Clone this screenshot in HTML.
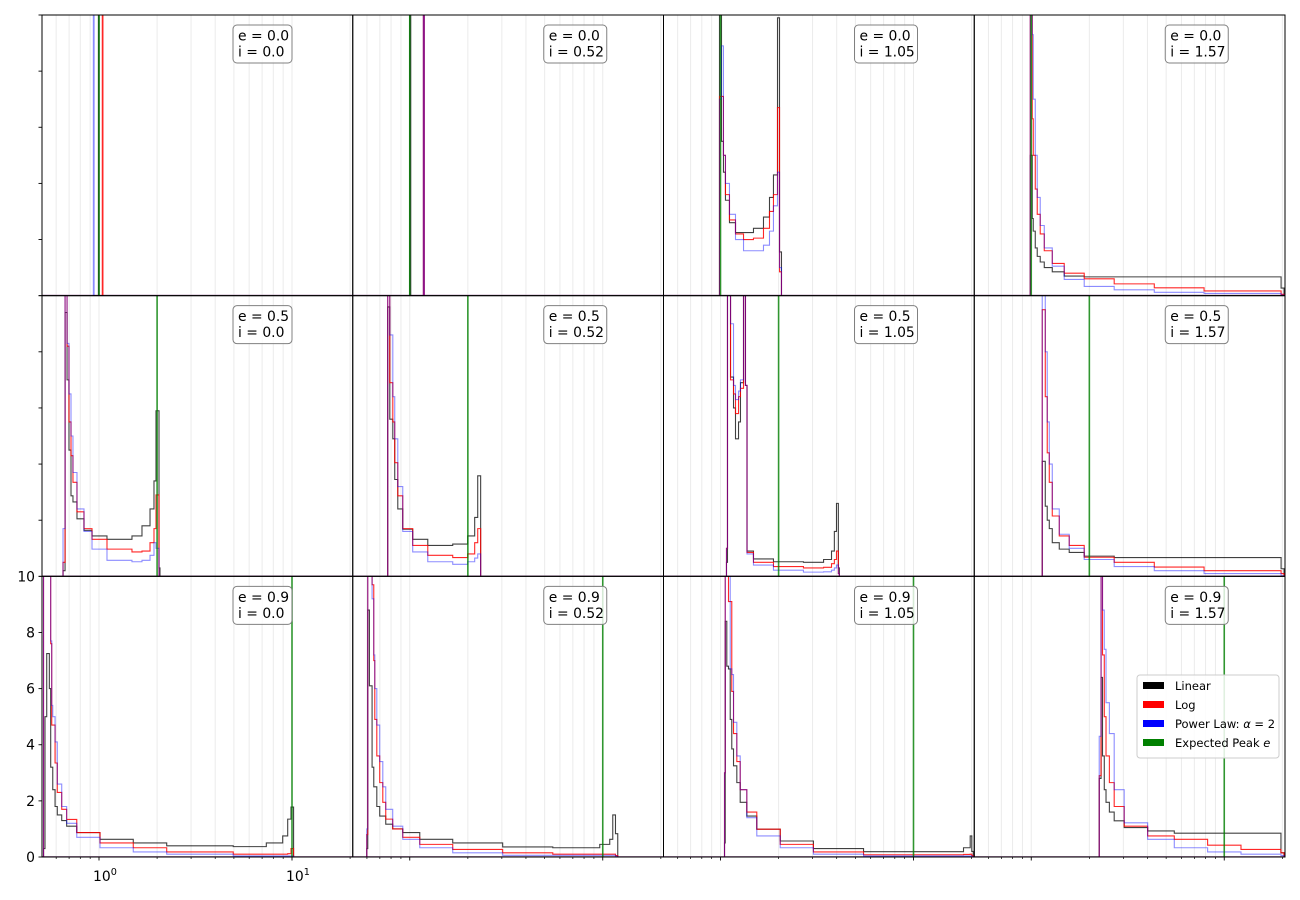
<!DOCTYPE html>
<html><head><meta charset="utf-8"><title>Histograms grid</title>
<style>
html,body{margin:0;padding:0;background:#fff;}
svg{display:block;font-family:"DejaVu Sans","Liberation Sans",sans-serif;}
</style></head>
<body>
<svg id="chart" width="1300" height="900" viewBox="0 0 1300 900" xmlns="http://www.w3.org/2000/svg">
<rect x="0" y="0" width="1300" height="900" fill="#fff"/>
<g id="grid"></g>
<g id="series"></g>
<g id="frames"></g>
<g id="axes"></g>
<g id="legend">
  <rect x="1137" y="675" width="142" height="83" rx="3" fill="#fff" fill-opacity="0.85" stroke="#cccccc"/>
  <g><rect x="1143" y="682" width="21" height="7" fill="#000"/><text x="1175" y="690" font-size="11.5">Linear</text></g>
  <g><rect x="1143" y="701" width="21" height="7" fill="#ff0000"/><text x="1175" y="709" font-size="11.5">Log</text></g>
  <g><rect x="1143" y="720" width="21" height="7" fill="#0000ff"/><text x="1175" y="728" font-size="11.5">Power Law: <tspan font-style="italic">α</tspan> = 2</text></g>
  <g><rect x="1143" y="739" width="21" height="7" fill="#008000"/><text x="1175" y="747" font-size="11.5">Expected Peak <tspan font-style="italic">e</tspan></text></g>
</g>
</svg>
<script>
// ---- data ----
const eccentricities = [0.0, 0.5, 0.9];
const inclinations = [0.0, 0.52, 1.05, 1.57];
const expectedPeak = [1, 2, 10];
const yTicks = [0, 2, 4, 6, 8, 10];

// row 1 (e = 0.0)
const edges_r1c1 = [0.935, 0.943, 0.993, 1.001, 1.040, 1.048];
const lin_r1c1 = [0, 0, 40, 0, 0];
const log_r1c1 = [0, 0, 0, 0, 40];
const pw_r1c1 = [40, 0, 0, 0, 0];

const edges_r1c2 = [1.000, 1.012, 1.176, 1.190];
const lin_r1c2 = [40, 0, 0];
const log_r1c2 = [0, 0, 40];
const pw_r1c2 = [0, 0, 40];

const edges_r1c3 = [0.988, 1.012, 1.036, 1.061, 1.113, 1.196, 1.316, 1.482, 1.670, 1.794, 1.881, 1.974, 2.022, 2.07];
const lin_r1c3 = [12, 5.5, 4.4, 3.4, 2.6, 2.25, 2.25, 2.4, 2.8, 3.5, 4.3, 9.9, 1.56];
const log_r1c3 = [7.1, 7.1, 5.0, 3.6, 2.7, 2.2, 2.0, 2.05, 2.4, 3.0, 3.6, 6.7, 0.85];
const pw_r1c3 = [7.0, 8.9, 5.0, 4.0, 2.9, 2.0, 1.6, 1.6, 1.8, 2.3, 3.2, 4.4, 1.0];

const edges_r1c4 = [0.988, 1.012, 1.024, 1.049, 1.074, 1.113, 1.168, 1.285, 1.482, 1.881, 2.69, 4.34, 7.86, 19.7, 20.4];
const lin_r1c4 = [5.0, 2.75, 2.3, 1.7, 1.4, 1.2, 1.0, 0.85, 0.7, 0.67, 0.67, 0.67, 0.67, 0.27];
const log_r1c4 = [12, 6.3, 5.0, 3.8, 2.9, 2.2, 1.6, 1.15, 0.8, 0.6, 0.42, 0.28, 0.17, 0.05];
const pw_r1c4 = [12, 9.3, 7.0, 5.0, 3.5, 2.5, 1.7, 1.05, 0.58, 0.33, 0.21, 0.12, 0.08, 0.02];

// row 2 (e = 0.5)
const edges_r2c1 = [0.651, 0.667, 0.683, 0.699, 0.716, 0.733, 0.769, 0.836, 0.920, 1.100, 1.482, 1.670, 1.838, 1.927, 1.974, 2.046, 2.07];
const lin_r2c1 = [0.2, 9.4, 7.0, 4.5, 2.87, 2.65, 2.05, 1.64, 1.44, 1.32, 1.44, 1.8, 2.4, 3.4, 5.9, 0.3];
const log_r2c1 = [0.5, 12, 8.2, 5.5, 4.3, 3.35, 2.3, 1.7, 1.32, 0.97, 0.87, 0.9, 1.2, 1.7, 2.9, 0];
const pw_r2c1 = [1.7, 12, 8.3, 6.5, 5.0, 3.7, 2.4, 1.6, 0.97, 0.57, 0.52, 0.57, 0.75, 1.2, 1.0, 0];

const edges_r2c2 = [0.769, 0.788, 0.817, 0.836, 0.867, 0.920, 1.036, 1.240, 1.670, 1.997, 2.17, 2.25, 2.33];
const lin_r2c2 = [9.6, 5.6, 4.9, 3.45, 2.4, 1.68, 1.32, 1.1, 1.15, 1.44, 2.1, 3.58];
const log_r2c2 = [12, 6.9, 5.5, 4.05, 2.87, 1.7, 1.1, 0.75, 0.67, 0.8, 1.2, 1.7];
const pw_r2c2 = [12, 8.6, 6.4, 4.9, 3.2, 1.6, 0.87, 0.52, 0.43, 0.52, 0.65, 0.8];

const edges_r2c3 = [1.074, 1.087, 1.127, 1.168, 1.196, 1.240, 1.269, 1.316, 1.347, 1.372, 1.482, 1.881, 2.69, 3.42, 3.76, 3.89, 3.99, 4.08, 4.13];
const lin_r2c3 = [0.5, 12, 7.1, 6.0, 4.9, 5.5, 6.9, 12, 6.8, 0.9, 0.62, 0.52, 0.5, 0.6, 0.9, 1.6, 2.6, 0.3];
const log_r2c3 = [1, 12, 7.0, 6.5, 5.8, 6.4, 6.7, 12, 6.8, 0.85, 0.5, 0.35, 0.3, 0.32, 0.45, 0.6, 0.9, 0.1];
const pw_r2c3 = [1, 12, 9.0, 6.8, 6.3, 6.6, 7.0, 12, 6.8, 0.8, 0.4, 0.22, 0.15, 0.16, 0.22, 0.3, 0.4, 0.1];

const edges_r2c4 = [1.140, 1.182, 1.210, 1.240, 1.285, 1.397, 1.573, 1.881, 2.69, 4.34, 7.86, 19.7, 20.4];
const lin_r2c4 = [4.1, 2.5, 2.0, 1.7, 1.2, 0.97, 0.85, 0.72, 0.67, 0.67, 0.67, 0.27];
const log_r2c4 = [9.5, 6.4, 4.4, 3.35, 2.15, 1.44, 1.1, 0.68, 0.5, 0.33, 0.2, 0.1];
const pw_r2c4 = [12, 8.0, 5.5, 4.0, 2.4, 1.5, 1.0, 0.6, 0.35, 0.2, 0.1, 0.02];

// row 3 (e = 0.9)
const edges_r3c1 = [0.516, 0.525, 0.536, 0.553, 0.562, 0.569, 0.576, 0.592, 0.608, 0.641, 0.680, 0.767, 1.012, 1.505, 2.243, 4.96, 7.36, 8.95, 9.50, 9.88, 10.19];
const lin_r3c1 = [0.3, 5.0, 7.25, 6.0, 3.2, 3.2, 2.4, 1.8, 1.5, 1.3, 1.1, 0.87, 0.63, 0.5, 0.4, 0.37, 0.5, 0.75, 1.35, 1.78];
const log_r3c1 = [12, 12, 12, 12, 7.6, 4.7, 4.7, 3.35, 2.3, 1.7, 1.34, 0.87, 0.5, 0.33, 0.18, 0.1, 0.1, 0.1, 0.12, 0.3];
const pw_r3c1 = [12, 12, 12, 12, 7.7, 5.4, 5.0, 4.1, 2.6, 1.8, 1.2, 0.7, 0.33, 0.18, 0.1, 0.04, 0.04, 0.04, 0.04, 0.04];

const edges_r3c2 = [0.599, 0.606, 0.618, 0.638, 0.651, 0.659, 0.675, 0.699, 0.725, 0.751, 0.816, 0.920, 1.127, 1.670, 3.03, 5.51, 9.65, 10.87, 11.27, 11.64, 11.96];
const lin_r3c2 = [0.3, 8.8, 6.1, 3.2, 2.5, 2.5, 1.8, 1.46, 1.46, 1.17, 1.0, 0.87, 0.63, 0.5, 0.36, 0.33, 0.45, 0.63, 1.5, 0.83];
const log_r3c2 = [0.8, 12, 12, 9.7, 7.0, 4.9, 3.6, 2.65, 1.95, 1.35, 1.0, 0.7, 0.45, 0.27, 0.15, 0.1, 0.1, 0.1, 0.1, 0.05];
const pw_r3c2 = [1.0, 12, 12, 9.2, 7.2, 6.0, 4.7, 3.4, 2.5, 1.7, 1.1, 0.63, 0.33, 0.15, 0.06, 0.06, 0.06, 0.06, 0.06, 0.03];

const edges_r3c3 = [1.049, 1.058, 1.078, 1.100, 1.123, 1.144, 1.168, 1.215, 1.265, 1.369, 1.542, 2.039, 3.03, 5.51, 18.16, 19.67, 20.05, 20.4];
const lin_r3c3 = [0.5, 8.4, 6.8, 6.7, 4.9, 3.85, 3.25, 2.65, 1.95, 1.46, 0.99, 0.57, 0.3, 0.19, 0.33, 0.75, 0.2];
const log_r3c3 = [3, 12, 12, 9.1, 9.1, 5.9, 4.4, 3.4, 2.4, 1.6, 0.99, 0.45, 0.18, 0.08, 0.09, 0.1, 0.05];
const pw_r3c3 = [3, 12, 12, 12, 6.7, 6.5, 4.8, 3.6, 2.4, 1.4, 0.75, 0.33, 0.1, 0.04, 0.04, 0.04, 0.02];

const edges_r3c4 = [2.25, 2.30, 2.34, 2.39, 2.44, 2.54, 2.69, 3.03, 4.01, 5.51, 8.20, 12.21, 19.67, 20.4];
const lin_r3c4 = [2.8, 6.4, 3.6, 2.4, 1.95, 1.6, 1.29, 1.05, 0.93, 0.85, 0.85, 0.85, 0.15];
const log_r3c4 = [2.9, 12, 7.2, 5.0, 3.6, 2.65, 1.8, 1.1, 0.75, 0.63, 0.42, 0.27, 0.15];
const pw_r3c4 = [4.3, 12, 8.8, 7.4, 5.5, 4.4, 2.4, 1.22, 0.63, 0.33, 0.18, 0.1, 0.05];

const panelEdges = [[edges_r1c1, edges_r1c2, edges_r1c3, edges_r1c4],[edges_r2c1, edges_r2c2, edges_r2c3, edges_r2c4],[edges_r3c1, edges_r3c2, edges_r3c3, edges_r3c4]];
const panelLin = [[lin_r1c1, lin_r1c2, lin_r1c3, lin_r1c4],[lin_r2c1, lin_r2c2, lin_r2c3, lin_r2c4],[lin_r3c1, lin_r3c2, lin_r3c3, lin_r3c4]];
const panelLog = [[log_r1c1, log_r1c2, log_r1c3, log_r1c4],[log_r2c1, log_r2c2, log_r2c3, log_r2c4],[log_r3c1, log_r3c2, log_r3c3, log_r3c4]];
const panelPw = [[pw_r1c1, pw_r1c2, pw_r1c3, pw_r1c4],[pw_r2c1, pw_r2c2, pw_r2c3, pw_r2c4],[pw_r3c1, pw_r3c2, pw_r3c3, pw_r3c4]];

// ---- layout ----
const NS = "http://www.w3.org/2000/svg";
const X0 = 42, PW = 310.75, Y0 = 15, PH = 280.67;
const LXMIN = -57/193, LXMAX = LXMIN + PW/193;
const YMAX = 10;
const gridVals = [0.6,0.7,0.8,0.9,1,2,3,4,5,6,7,8,9,10,20];
const minorTicks = [0.6,0.7,0.8,0.9,2,3,4,5,6,7,8,9,20];
const majorTicks = [1,10];

function mk(tag, attrs, parent){
  const el = document.createElementNS(NS, tag);
  for (const k in attrs) el.setAttribute(k, attrs[k]);
  parent.appendChild(el);
  return el;
}
function xs(c, v){ return X0 + c*PW + (Math.log10(v) - LXMIN)/(LXMAX - LXMIN)*PW; }
function ys(r, v){ return Y0 + (r+1)*PH - Math.max(0, v)/YMAX*PH; }

const svg = document.getElementById('chart');
const defs = mk('defs', {}, svg);
const gGrid = document.getElementById('grid');
const gSeries = document.getElementById('series');
const gFrames = document.getElementById('frames');
const gAxes = document.getElementById('axes');

function stepPath(r, c, edges, vals){
  const base = ys(r, 0);
  let d = 'M' + xs(c, edges[0]).toFixed(2) + ',' + base.toFixed(2);
  for (let k = 0; k < vals.length; k++){
    const y = ys(r, vals[k]).toFixed(2);
    d += ' L' + xs(c, edges[k]).toFixed(2) + ',' + y + ' L' + xs(c, edges[k+1]).toFixed(2) + ',' + y;
  }
  d += ' L' + xs(c, edges[edges.length-1]).toFixed(2) + ',' + base.toFixed(2);
  return d;
}

for (let r = 0; r < 3; r++){
  for (let c = 0; c < 4; c++){
    const L = X0 + c*PW, T = Y0 + r*PH, B = T + PH;
    const cp = mk('clipPath', {id: 'clip'+r+c}, defs);
    mk('rect', {x: L, y: T, width: PW, height: PH}, cp);
    gridVals.forEach(g => {
      const gl = mk('line', {x1: xs(c,g), x2: xs(c,g), y1: T, y2: B, stroke: '#ebebeb', 'stroke-width': 1}, gGrid);
      
      
    });
    const pg = mk('g', {'clip-path': 'url(#clip'+r+c+')'}, gSeries);
    
    
    const bl = mk('line', {x1: L, x2: L+PW, y1: B-0.5, y2: B-0.5, stroke: '#b590b5', 'stroke-width': 1}, pg);
    
    
    const e = panelEdges[r][c];
    const p1 = mk('path', {d: stepPath(r,c,e,panelLin[r][c]), fill: 'none', stroke: '#000', 'stroke-opacity': 0.75, 'stroke-width': 1.1}, pg);
    
    
    const p2 = mk('path', {d: stepPath(r,c,e,panelLog[r][c]), fill: 'none', stroke: '#ff0000', 'stroke-opacity': 0.85, 'stroke-width': 1.1}, pg);
    
    
    const p3 = mk('path', {d: stepPath(r,c,e,panelPw[r][c]), fill: 'none', stroke: '#0000ff', 'stroke-opacity': 0.45, 'stroke-width': 1.1}, pg);
    
    
    const gx = xs(c, expectedPeak[r]);
    const gl = mk('line', {x1: gx, x2: gx, y1: T, y2: B, stroke: '#008000', 'stroke-opacity': 0.8, 'stroke-width': 1.6}, pg);
    
    
    const fr = mk('rect', {x: L, y: T, width: PW, height: PH, fill: 'none', stroke: '#000', 'stroke-width': 1}, gFrames);
    
    
    const ann = mk('g', {}, gAxes);
    
    
    const iTxt = inclinations[c] === 0 ? '0.0' : String(inclinations[c]);
    const eTxt = eccentricities[r].toFixed(1);
    mk('rect', {x: L+191, y: T+10, width: iTxt.length > 3 ? 63 : 59, height: 38, rx: 4, fill: '#fff', 'fill-opacity': 0.8, stroke: '#808080', 'stroke-width': 1}, ann);
    const t1 = mk('text', {x: L+196, y: T+25.5, 'font-size': 13.9, fill: '#000'}, ann);
    t1.textContent = 'e = ' + eTxt;
    const t2 = mk('text', {x: L+196, y: T+41.5, 'font-size': 13.9, fill: '#000'}, ann);
    t2.textContent = 'i = ' + iTxt;
    if (c === 0){
      yTicks.forEach(v => {
        const yy = ys(r, v);
        const tk = mk('line', {x1: L-3.5, x2: L, y1: yy, y2: yy, stroke: '#000', 'stroke-width': 0.9}, gAxes);
        
        
        if (r === 2){
          const tl = mk('text', {x: L-7, y: yy+5, 'font-size': 13.9, 'text-anchor': 'end'}, gAxes);
          
          
          tl.textContent = String(v);
        }
      });
    }
    if (r === 2){
      minorTicks.forEach(v => {
        const tk = mk('line', {x1: xs(c,v), x2: xs(c,v), y1: B, y2: B+2, stroke: '#000', 'stroke-width': 0.7}, gAxes);
        
        
      });
      majorTicks.forEach(v => {
        const tk = mk('line', {x1: xs(c,v), x2: xs(c,v), y1: B, y2: B+3.5, stroke: '#000', 'stroke-width': 0.9}, gAxes);
        
        
        if (c === 0){
          const tl = mk('text', {x: xs(c,v)-6, y: B+24, 'font-size': 13.9}, gAxes);
          
          
          tl.textContent = '10';
          const sup = mk('tspan', {dy: -6, 'font-size': 9.7}, tl);
          sup.textContent = String(Math.round(Math.log10(v)));
        }
      });
    }
  }
}
svg.appendChild(document.getElementById('legend'));
</script>
</body></html>
